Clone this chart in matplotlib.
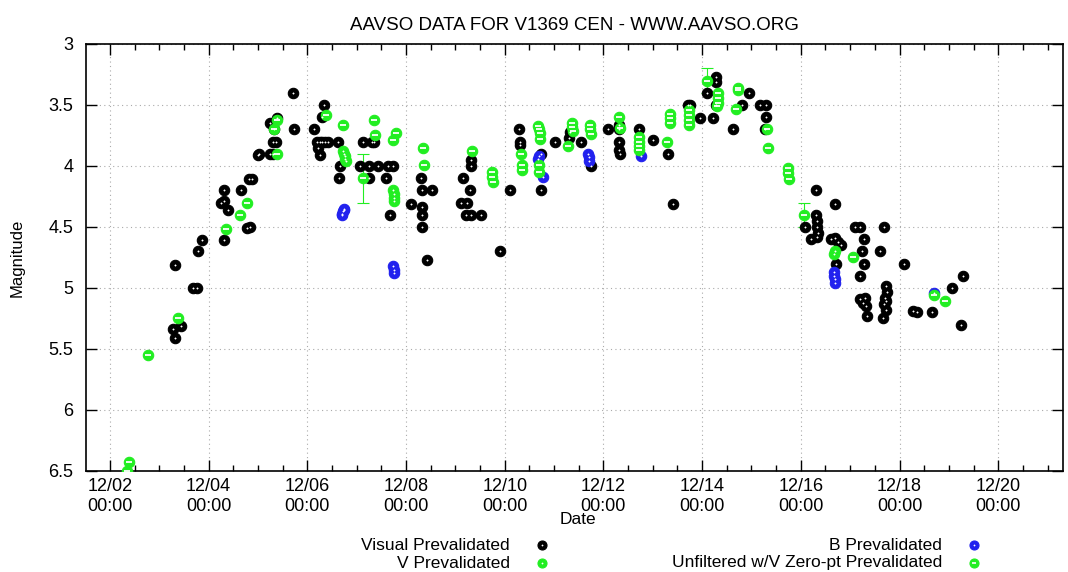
import matplotlib
matplotlib.use('Agg')
import matplotlib.pyplot as plt
import matplotlib.dates as mdates
import pandas as pd
import numpy as np

plt.rcParams['font.family'] = ['Liberation Sans', 'DejaVu Sans']

# observations: day of December 2013 (fractional) and magnitude
vis_day = [3.32, 3.69, 3.76, 3.44, 3.27, 3.32, 3.86, 3.78, 4.32, 4.78, 4.32, 4.65, 4.25, 4.32, 4.39,
           4.81, 4.87, 4.84, 5.00, 5.02, 5.24, 5.31, 5.71, 5.38, 5.24, 5.33, 5.31, 5.36, 5.73, 6.34,
           6.29, 6.14, 6.20, 6.25, 6.30, 6.35, 6.42, 6.22, 6.26, 6.63, 6.66, 6.65, 7.13, 7.30, 7.35,
           7.07, 7.25, 7.44, 7.63, 7.74, 7.25, 7.59, 7.67, 8.11, 8.30, 8.32, 8.52, 8.32, 8.33, 8.32,
           8.42, 9.31, 9.31, 9.15, 9.29, 9.11, 9.24, 9.21, 9.32, 9.52, 9.90, 10.10, 10.29, 10.31,
           10.31, 10.73, 10.73, 11.02, 11.32, 11.31, 11.54, 11.74, 12.10, 12.31, 12.31, 12.31, 12.31,
           12.33, 12.72, 13.01, 13.30, 13.41, 13.72, 13.75, 13.96, 14.22, 14.10, 14.29, 14.29, 14.28,
           14.62, 14.80, 14.95, 15.17, 15.29, 15.29, 15.27, 16.30, 16.69, 16.08, 16.30, 16.33, 16.32,
           16.35, 16.33, 16.20, 16.62, 16.70, 16.76, 16.82, 17.10, 17.20, 17.68, 16.71, 17.28, 17.23,
           17.60, 17.29, 17.19, 18.09, 17.20, 17.25, 17.30, 17.33, 17.35, 17.72, 17.74, 17.70, 17.73,
           17.68, 17.72, 17.66, 18.28, 18.35, 18.66, 19.07, 19.28, 19.24]
vis_mag = [4.81, 5.00, 5.00, 5.31, 5.34, 5.41, 4.61, 4.70, 4.61, 4.51, 4.20, 4.20, 4.30, 4.29, 4.36,
           4.11, 4.11, 4.50, 3.91, 3.90, 3.90, 3.90, 3.40, 3.61, 3.65, 3.70, 3.80, 3.80, 3.70, 3.50,
           3.60, 3.70, 3.80, 3.80, 3.80, 3.80, 3.80, 3.85, 3.91, 3.80, 4.00, 4.10, 3.80, 3.80, 3.80,
           4.00, 4.00, 4.00, 4.00, 4.00, 4.10, 4.10, 4.40, 4.31, 4.10, 4.20, 4.20, 4.34, 4.40, 4.50,
           4.77, 3.95, 4.00, 4.10, 4.20, 4.30, 4.30, 4.40, 4.40, 4.40, 4.70, 4.20, 3.70, 3.80,
           3.83, 3.90, 4.20, 3.80, 3.72, 3.77, 3.80, 4.00, 3.70, 3.66, 3.70, 3.80, 3.87,
           3.90, 3.70, 3.79, 3.90, 4.31, 3.50, 3.50, 3.61, 3.61, 3.40, 3.27, 3.31, 3.50,
           3.70, 3.50, 3.40, 3.50, 3.50, 3.60, 3.70, 4.20, 4.31, 4.50, 4.40, 4.45, 4.50,
           4.55, 4.58, 4.60, 4.60, 4.59, 4.62, 4.65, 4.50, 4.50, 4.50, 4.80, 4.60, 4.70,
           4.70, 4.80, 4.90, 4.80, 5.09, 5.12, 5.08, 5.15, 5.23, 4.98, 5.03, 5.08, 5.11,
           5.13, 5.18, 5.25, 5.19, 5.20, 5.20, 5.00, 4.90, 5.30]

v_day = [6.72, 6.74, 6.76, 6.77, 6.78, 7.74, 7.75, 7.75, 7.76, 16.68, 16.69]
v_mag = [3.88, 3.90, 3.92, 3.94, 3.96, 4.20, 4.23, 4.26, 4.29, 4.72, 4.70]

b_day = [6.70, 6.71, 6.72, 6.74, 6.75, 7.74, 7.75, 7.75, 10.68, 10.69, 10.78, 11.69, 11.70, 11.71,
         12.76, 16.68, 16.68, 16.69, 16.69, 18.70]
b_mag = [4.39, 4.40, 4.37, 4.35, 4.36, 4.82, 4.85, 4.88, 3.94, 3.92, 4.09, 3.90, 3.93, 3.96,
         3.92, 4.87, 4.90, 4.93, 4.96, 5.04]

cv_day = [2.34, 2.385, 2.78, 3.37, 4.36, 4.64, 4.77, 5.39, 5.33, 5.38, 6.38, 6.73, 7.36, 7.38, 7.79,
          7.73, 7.13, 8.35, 8.36, 9.34, 9.75, 9.75, 9.76, 10.32, 10.34, 10.34, 10.68, 10.70, 10.71,
          10.72, 10.69, 10.69, 11.37, 11.37, 11.38, 11.29, 11.73, 11.73, 11.74, 12.32, 12.33, 12.72,
          12.72, 12.73, 12.73, 13.28, 13.34, 13.34, 13.35, 13.73, 13.73, 13.74, 13.74, 14.10, 14.32,
          14.32, 14.33, 14.31, 14.73, 14.72, 14.68, 15.31, 15.34, 15.75, 15.75, 15.76, 16.06, 17.05,
          18.69, 18.93]
cv_mag = [6.50, 6.43, 5.55, 5.25, 4.52, 4.40, 4.30, 3.62, 3.70, 3.90, 3.58, 3.66, 3.62, 3.75, 3.73,
          3.79, 4.10, 3.85, 3.99, 3.88, 4.05, 4.09, 4.13, 3.90, 3.99, 4.03, 3.67, 3.70, 3.73,
          3.78, 3.99, 4.05, 3.65, 3.68, 3.71, 3.84, 3.66, 3.70, 3.74, 3.60, 3.69, 3.76,
          3.80, 3.84, 3.87, 3.80, 3.57, 3.61, 3.65, 3.54, 3.58, 3.62, 3.66, 3.30, 3.40,
          3.44, 3.48, 3.51, 3.36, 3.38, 3.53, 3.70, 3.85, 4.02, 4.06, 4.11, 4.40, 4.75,
          5.06, 5.11]
cv_err = {7.13: 0.2, 14.10: 0.1, 16.06: 0.1}

GREEN = '#22ee22'
BLUE = '#2222ee'


def to_dates(days):
    return pd.Timestamp('2013-12-01') + pd.to_timedelta(np.array(days) - 1, unit='D')


def draw_points(ax, days, mags, color, inner):
    t = to_dates(days)
    edge = 'black' if color == 'black' else color
    ax.plot(t, mags, 'o', ms=7.5, mfc=color, mec=edge, mew=0.8, ls='none', zorder=3)
    if inner == '_':
        ax.plot(t, mags, '_', ms=4, mec='white', mew=1.3, ls='none', zorder=4)
    else:
        ax.plot(t, mags, '.', ms=2.2, mec='white', mfc='white', mew=0.2, ls='none', zorder=4)


fig = plt.figure(figsize=(10.68, 5.72), dpi=100)
ax = fig.add_axes([0.0805, 0.1766, 0.9148, 0.7465])

# error bars on the few CV points that have them
for d, e in cv_err.items():
    m = cv_mag[cv_day.index(d)]
    ax.errorbar(to_dates([d]), [m], yerr=[e], fmt='none', ecolor=GREEN, elinewidth=0.8,
                capsize=4, capthick=0.8, zorder=2)

draw_points(ax, vis_day, vis_mag, 'black', '.')
draw_points(ax, v_day, v_mag, GREEN, '.')
draw_points(ax, b_day, b_mag, BLUE, '.')
draw_points(ax, cv_day, cv_mag, GREEN, '_')

ax.set_xlim(pd.Timestamp('2013-12-01 12:20'), pd.Timestamp('2013-12-21 07:30'))
ax.set_ylim(6.5, 3)
ax.set_yticks(np.arange(3, 6.51, 0.5))
ax.set_yticklabels(['3', '3.5', '4', '4.5', '5', '5.5', '6', '6.5'])
ax.xaxis.set_major_locator(mdates.DayLocator(bymonthday=range(2, 32, 2)))
ax.xaxis.set_minor_locator(mdates.HourLocator(byhour=[0, 12]))
ax.xaxis.set_major_formatter(mdates.DateFormatter('%m/%d\n%H:%M'))
ax.tick_params(which='both', direction='in', top=True, right=True, labelsize=13)
ax.tick_params(axis='x', pad=5)
ax.tick_params(axis='y', pad=9)
ax.tick_params(which='major', length=8, width=1)
ax.tick_params(which='minor', length=4, width=1)
ax.grid(True, which='major', color='#aaaaaa', linestyle=(0, (1, 3)), linewidth=0.8)
for s in ax.spines.values():
    s.set_linewidth(1.2)

ax.set_title('AAVSO DATA FOR V1369 CEN - WWW.AAVSO.ORG', fontsize=13.5, pad=10)
ax.set_ylabel('Magnitude', fontsize=12, labelpad=17)
fig.text(0.541, 0.092, 'Date', ha='center', va='center', fontsize=12.5)

# gnuplot-like key below the plot
lax = fig.add_axes([0, 0, 1, 1], facecolor='none')
lax.set_xlim(0, 1068)
lax.set_ylim(572, 0)
lax.axis('off')
key = [('Visual Prevalidated', 'black', '.', 510, 545),
       ('V Prevalidated', GREEN, '.', 510, 563),
       ('B Prevalidated', BLUE, '.', 942, 545),
       ('Unfiltered w/V Zero-pt Prevalidated', GREEN, '_', 942, 563)]
for label, color, inner, x, y in key:
    lax.text(x, y, label, ha='right', va='center', fontsize=12.5)
    edge = 'black' if color == 'black' else color
    lax.plot([x + 32], [y], 'o', ms=6.5, mfc=color, mec=edge, mew=0.8)
    if inner == '_':
        lax.plot([x + 32], [y], '_', ms=3.5, mec='white', mew=1.2)
    else:
        lax.plot([x + 32], [y], '.', ms=2.0, mec='white', mfc='white', mew=0.2)

fig.savefig('out.png', dpi=100)
